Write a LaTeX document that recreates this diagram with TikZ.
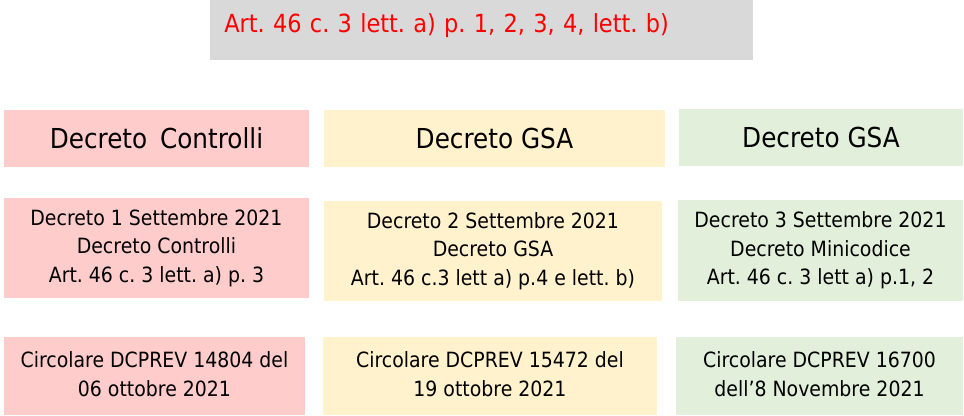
\documentclass[tikz,border=0pt]{standalone}
\usepackage{fontspec}
\setmainfont{DejaVu Sans}[FakeStretch=0.9]
\usepackage{tikz}
\definecolor{softred}{RGB}{255, 204, 204}
\definecolor{softyellow}{RGB}{255, 242, 204}
\definecolor{softgreen}{RGB}{226, 239, 218}
\definecolor{lgray}{RGB}{217, 217, 217}
\newcommand{\px}{0.75pt}
\frenchspacing
\begin{document}
\begin{tikzpicture}[x = 0.75pt, y = -0.75pt,
	box/.style = {rectangle, inner sep = 0pt, align = center},
	head/.style = {box, minimum height = 57*\px, font = \fontsize{20.6pt}{24pt}\selectfont},
	body/.style = {box, font = \fontsize{15.75pt}{21.4pt}\selectfont}]
			\useasboundingbox (0,0) rectangle (964,415);
			\node (art) at (210,0) [anchor = north west, fill = lgray, text = red, inner xsep = 14*\px, inner ysep = 0pt,
				text width = 515*\px, text height = 32*\px, text depth = 28*\px, align = left,
				font = \fontsize{18.7pt}{23pt}\selectfont] {Art. 46 c. 3 lett. a) p. 1, 2, 3, 4, lett. b)};
			\node (h1) at (156.5,138.5) [head, fill = softred, minimum width = 305*\px] {Decreto \hspace{0.18em}Controlli};
			\node (h2) at (494.5,138.5) [head, fill = softyellow, minimum width = 341*\px] {Decreto GSA};
			\node (h3) at (821,137.5) [head, fill = softgreen, minimum width = 284*\px] {Decreto GSA};
			\node (d1) at (156.5,248) [body, fill = softred, minimum width = 305*\px, minimum height = 100*\px] {Decreto 1 Settembre 2021\\Decreto Controlli\\Art. 46 c. 3 lett. a) p. 3};
			\node (d2) at (493,251) [body, fill = softyellow, minimum width = 338*\px, minimum height = 100*\px] {Decreto 2 Settembre 2021\\Decreto GSA\\Art. 46 c.3 lett a) p.4 e lett. b)};
			\node (d3) at (820.5,250.5) [body, fill = softgreen, minimum width = 285*\px, minimum height = 101*\px] {Decreto 3 Settembre 2021\\Decreto Minicodice\\Art. 46 c. 3 lett a) p.1, 2};
			\node (c1) at (154.5,376) [body, fill = softred, minimum width = 301*\px, minimum height = 78*\px, text depth = 4*\px] {Circolare DCPREV 14804 del\\06 ottobre 2021};
			\node (c2) at (490,376) [body, fill = softyellow, minimum width = 334*\px, minimum height = 78*\px, text depth = 4*\px] {Circolare DCPREV 15472 del\\19 ottobre 2021};
			\node (c3) at (819.5,376) [body, fill = softgreen, minimum width = 287*\px, minimum height = 78*\px, text depth = 4*\px] {Circolare DCPREV 16700\\dell’8 Novembre 2021};
			\end{tikzpicture}
\end{document}
